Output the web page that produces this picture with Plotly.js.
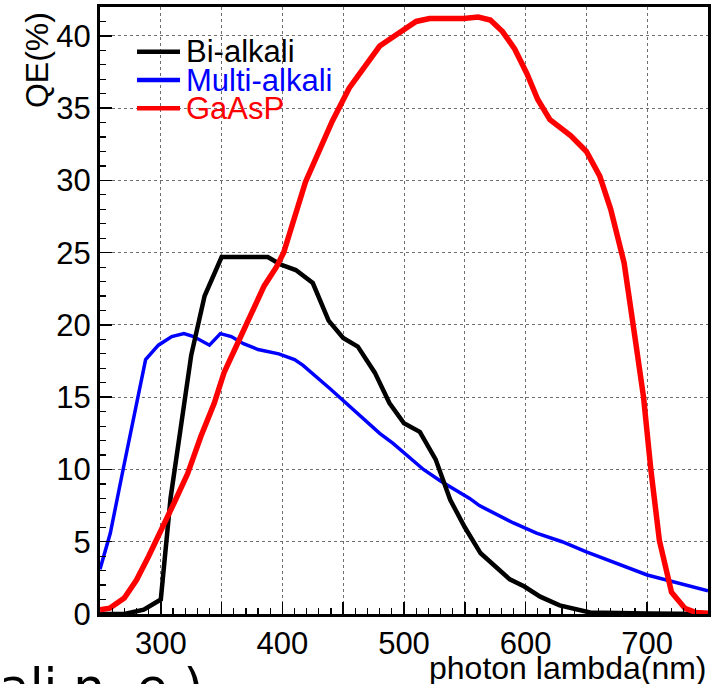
<!DOCTYPE html>
<html>
<head>
<meta charset="utf-8">
<script src="https://cdn.plot.ly/plotly-3.0.1.min.js"></script>
<style>
  html, body { margin: 0; padding: 0; background: #ffffff; }
  #chart { width: 718px; height: 684px; }
</style>
</head>
<body>
<div id="chart"></div>
<script>
// ---- data ----
var seriesNames = ["Bi-alkali", "Multi-alkali", "GaAsP"];

var biX = [250, 270, 286, 300, 308, 325, 336, 350, 388, 398, 411, 425, 438, 450, 462, 476, 488, 500, 513, 526, 538, 550, 563, 575, 587, 599, 612, 628, 645, 653, 700, 750];
var biY = [0, 0, 0.3, 1.0, 8.0, 17.9, 22.0, 24.7, 24.7, 24.2, 23.8, 22.9, 20.3, 19.1, 18.5, 16.7, 14.6, 13.2, 12.6, 10.7, 7.9, 6.0, 4.2, 3.3, 2.4, 1.9, 1.2, 0.6, 0.25, 0.1, 0.03, 0];

var multiX = [250, 258.5, 269, 287.5, 298, 309, 319, 327, 340, 349, 358, 368, 380, 397, 410, 417, 439, 452, 480, 491, 516, 530, 554, 562, 590, 609, 630, 650, 700, 750];
var multiY = [3.1, 5.6, 10.0, 17.6, 18.6, 19.2, 19.4, 19.2, 18.6, 19.4, 19.2, 18.7, 18.3, 18.0, 17.6, 17.2, 15.6, 14.6, 12.5, 11.8, 10.0, 9.2, 8.0, 7.5, 6.3, 5.6, 5.0, 4.3, 2.7, 1.6];

var gaX = [250, 258, 270, 280, 290, 300, 311, 322, 333, 344, 352, 363, 374, 385, 395, 401, 419, 441, 455, 480, 494, 510, 521, 549, 561, 571, 581, 591, 601, 610, 620, 637, 650, 661, 670, 681, 690, 697, 703, 710, 720, 731, 740, 750];
var gaY = [0.3, 0.4, 1.1, 2.35, 4.0, 5.7, 7.7, 9.7, 12.3, 14.6, 16.7, 18.7, 20.8, 22.7, 24.0, 25.0, 29.9, 34.1, 36.4, 39.3, 40.1, 41.0, 41.2, 41.2, 41.3, 41.1, 40.3, 39.1, 37.4, 35.6, 34.2, 33.1, 32.0, 30.3, 28.0, 24.3, 19.1, 15.0, 10.0, 5.1, 1.5, 0.4, 0.1, 0.05];

var xTickVals = [300, 350, 400, 450, 500, 550, 600, 650, 700];
var xTickText = ["300", "", "400", "", "500", "", "600", "", "700"];
var yTickVals = [0, 5, 10, 15, 20, 25, 30, 35, 40];
var yTickText = ["0", "5", "10", "15", "20", "25", "30", "35", "40"];

var xTitle = "photon lambda(nm)";
var yTitle = "QE(%)";
var stray = "ali n  e )";

var colors = {"Bi-alkali": "#000000", "Multi-alkali": "#0000ff", "GaAsP": "#ff0000"};
var widths = {"Bi-alkali": 4.5, "Multi-alkali": 3.5, "GaAsP": 5.5};

// ---- traces (draw order: blue, black, red) ----
var traces = [
  {x: multiX, y: multiY, name: seriesNames[1]},
  {x: biX, y: biY, name: seriesNames[0]},
  {x: gaX, y: gaY, name: seriesNames[2]}
].map(function (t) {
  return {
    type: "scatter", mode: "lines", x: t.x, y: t.y, name: t.name,
    line: {color: colors[t.name], width: widths[t.name], shape: "linear"},
    showlegend: false, hoverinfo: "skip"
  };
});

var FONT = "Liberation Sans, Arial, Helvetica, sans-serif";

// manual ROOT-style legend
var legY = [0.9264, 0.8797, 0.8331];
var shapes = [];
var annotations = [];
seriesNames.forEach(function (n, i) {
  shapes.push({type: "line", xref: "paper", yref: "paper", x0: 0.0609, x1: 0.1316, y0: legY[i], y1: legY[i],
               line: {color: colors[n], width: 4.5}});
  annotations.push({xref: "paper", yref: "paper", x: 0.138, y: legY[i], xanchor: "left", yanchor: "middle",
                    text: n, showarrow: false, font: {family: FONT, size: 31, color: colors[n]}});
});
annotations.push({xref: "paper", yref: "paper", x: 1.0, y: -0.056, xanchor: "right", yanchor: "top",
                  text: xTitle, showarrow: false, font: {family: FONT, size: 32, color: "#000"}});
annotations.push({xref: "paper", yref: "paper", x: -0.1036, y: 0.995, xanchor: "center", yanchor: "top",
                  text: yTitle, textangle: -90, showarrow: false, font: {family: FONT, size: 32, color: "#000"}});
annotations.push({xref: "paper", yref: "paper", x: -0.1694, y: -0.069, xanchor: "left", yanchor: "top",
                  text: stray, showarrow: false, font: {family: "DejaVu Sans, sans-serif", size: 50, color: "#000"}});

var layout = {
  width: 718, height: 684,
  margin: {l: 100, r: 10, t: 7, b: 70, pad: 0},
  paper_bgcolor: "#ffffff", plot_bgcolor: "#ffffff",
  showlegend: false,
  font: {family: FONT, size: 31, color: "#000"},
  xaxis: {
    range: [250, 750], tickmode: "array", tickvals: xTickVals, ticktext: xTickText,
    ticks: "inside", ticklen: 12, tickwidth: 1.5, tickcolor: "#000",
    showline: true, mirror: true, linecolor: "#000", linewidth: 3,
    showgrid: true, gridcolor: "#6e6e6e", gridwidth: 1, griddash: "dot",
    zeroline: false, tickfont: {family: FONT, size: 31, color: "#000"},
    minor: {tickmode: "linear", tick0: 250, dtick: 10, ticks: "inside", ticklen: 6, tickwidth: 1.2, tickcolor: "#000", showgrid: false}
  },
  yaxis: {
    range: [0, 42], tickmode: "array", tickvals: yTickVals, ticktext: yTickText,
    ticks: "inside", ticklen: 12, tickwidth: 1.5, tickcolor: "#000",
    showline: true, mirror: true, linecolor: "#000", linewidth: 3,
    showgrid: true, gridcolor: "#6e6e6e", gridwidth: 1, griddash: "dot",
    zeroline: false, tickfont: {family: FONT, size: 31, color: "#000"},
    minor: {tickmode: "linear", tick0: 0, dtick: 1, ticks: "inside", ticklen: 6, tickwidth: 1.2, tickcolor: "#000", showgrid: false}
  },
  shapes: shapes,
  annotations: annotations
};

Plotly.newPlot("chart", traces, layout, {staticPlot: true, displayModeBar: false});
</script>
</body>
</html>
